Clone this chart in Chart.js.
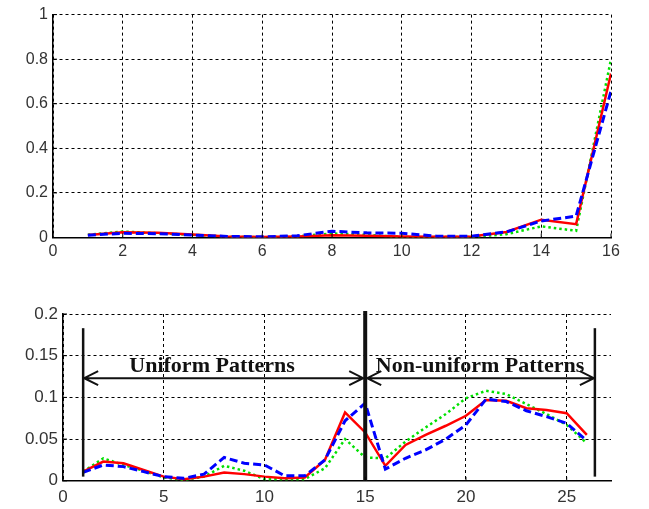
<!DOCTYPE html>
<html lang="en">
<head>
    <meta charset="UTF-8">
    <title>Uniform / Non-uniform Patterns</title>
    <script src="https://cdn.jsdelivr.net/npm/chart.js"></script>
    <style>
        body { margin: 0; background: #fff; width: 649px; height: 509px; position: relative; overflow: hidden; }
        .box { position: absolute; left: 0; width: 649px; }
        #topBox { top: 0; height: 262px; }
        #bottomBox { top: 290px; height: 219px; }
    </style>
</head>
<body>
    <div class="box" id="topBox"><canvas id="topChart"></canvas></div>
    <div class="box" id="bottomBox"><canvas id="bottomChart"></canvas></div>

    <script>
        // top plot: 15 uniform bins + 1 merged bin
        const topX = [1, 2, 3, 4, 5, 6, 7, 8, 9, 10, 11, 12, 13, 14, 15, 16];
        const topRed   = [0.011, 0.023, 0.021, 0.013, 0.005, 0.002, 0.005, 0.010, 0.008, 0.005, 0.003, 0.004, 0.025, 0.080, 0.060, 0.736];
        const topBlue  = [0.010, 0.019, 0.017, 0.011, 0.005, 0.003, 0.008, 0.028, 0.021, 0.019, 0.006, 0.006, 0.025, 0.074, 0.096, 0.657];
        const topGreen = [0.012, 0.027, 0.019, 0.012, 0.004, 0.001, 0.005, 0.018, 0.012, 0.002, 0.002, 0.002, 0.015, 0.050, 0.030, 0.800];
        const topXTicks = [0, 2, 4, 6, 8, 10, 12, 14, 16];
        const topYTicks = [0, 0.2, 0.4, 0.6, 0.8, 1];

        // bottom plot: 26 bins
        const bottomX = [1, 2, 3, 4, 5, 6, 7, 8, 9, 10, 11, 12, 13, 14, 15, 16, 17, 18, 19, 20, 21, 22, 23, 24, 25, 26];
        const bottomRed   = [0.011, 0.023, 0.021, 0.013, 0.005, 0.002, 0.005, 0.010, 0.008, 0.005, 0.003, 0.004, 0.025, 0.082, 0.058,
                             0.018, 0.043, 0.055, 0.066, 0.078, 0.097, 0.096, 0.087, 0.085, 0.081, 0.055];
        const bottomBlue  = [0.010, 0.019, 0.017, 0.011, 0.005, 0.003, 0.008, 0.028, 0.021, 0.019, 0.006, 0.006, 0.025, 0.072, 0.093,
                             0.014, 0.027, 0.037, 0.050, 0.067, 0.098, 0.095, 0.084, 0.077, 0.069, 0.048];
        const bottomGreen = [0.011, 0.027, 0.019, 0.012, 0.004, 0.001, 0.005, 0.018, 0.012, 0.002, 0.002, 0.002, 0.015, 0.050, 0.028,
                             0.027, 0.047, 0.064, 0.080, 0.099, 0.108, 0.104, 0.092, 0.080, 0.067, 0.045];
        const bottomXTicks = [0, 5, 10, 15, 20, 25];
        const bottomYTicks = [0, 0.05, 0.1, 0.15, 0.2];

        // annotation on the bottom plot
        const dividerX = [1, 15, 26.4];
        const arrowY = 0.123;
        const regionLabels = [
            { text: 'Uniform Patterns', x: 7.4 },
            { text: 'Non-uniform Patterns', x: 20.7 }
        ];

        function series(xs, ys) {
            return xs.map((x, i) => ({ x: x, y: ys[i] }));
        }

        function lineSets(xs, red, blue, green) {
            // blue first so it ends up on top
            return [
                { label: 'blue', data: series(xs, blue), borderColor: '#0000ff', borderWidth: 3, borderDash: [8, 4] },
                { label: 'red', data: series(xs, red), borderColor: '#ff0000', borderWidth: 2.5 },
                { label: 'green', data: series(xs, green), borderColor: '#00e000', borderWidth: 2.5, borderDash: [2.5, 3] }
            ];
        }

        function axes(xMin, xMax, xTicks, yMax, yTicks, xHeight, yWidth, fontSize, xPad) {
            const grid = { color: '#000', lineWidth: 1, drawTicks: false };
            const border = { display: true, color: '#000', width: 1.5, dash: [3, 3] };
            const ticks = {
                color: '#333',
                font: { family: '"Liberation Sans", Arial, sans-serif', size: fontSize },
                callback: v => String(+v.toFixed(2))
            };
            return {
                x: {
                    type: 'linear', min: xMin, max: xMax,
                    afterBuildTicks: s => { s.ticks = xTicks.map(v => ({ value: v })); },
                    afterFit: s => { s.height = xHeight; },
                    grid: grid, border: border,
                    ticks: Object.assign({ padding: xPad, maxRotation: 0, autoSkip: false }, ticks)
                },
                y: {
                    type: 'linear', min: 0, max: yMax,
                    afterBuildTicks: s => { s.ticks = yTicks.map(v => ({ value: v })); },
                    afterFit: s => { s.width = yWidth; },
                    grid: grid, border: border,
                    ticks: Object.assign({ padding: 5 }, ticks)
                }
            };
        }

        // matlab style ticks pointing into the plot
        const inwardTicks = {
            id: 'inwardTicks',
            afterDraw(chart) {
                const { ctx, chartArea: a, scales: { x, y } } = chart;
                ctx.save();
                ctx.strokeStyle = '#000';
                ctx.lineWidth = 1;
                ctx.beginPath();
                x.ticks.forEach(t => {
                    const px = x.getPixelForValue(t.value);
                    ctx.moveTo(px, a.bottom); ctx.lineTo(px, a.bottom - 4);
                });
                y.ticks.forEach(t => {
                    const py = y.getPixelForValue(t.value);
                    ctx.moveTo(a.left, py); ctx.lineTo(a.left + 4, py);
                });
                ctx.stroke();
                ctx.restore();
            }
        };

        function arrowHead(ctx, tipX, tipY, dir) {
            ctx.moveTo(tipX + dir * 14, tipY - 7);
            ctx.lineTo(tipX, tipY);
            ctx.lineTo(tipX + dir * 14, tipY + 7);
        }

        const regions = {
            id: 'regions',
            afterDatasetsDraw(chart) {
                const { ctx, scales: { x, y } } = chart;
                ctx.save();
                ctx.strokeStyle = '#111';
                ctx.fillStyle = '#111';

                // divider bars
                dividerX.forEach((dx, i) => {
                    const px = x.getPixelForValue(dx);
                    const mid = i === 1;
                    ctx.lineWidth = mid ? 4 : 2.5;
                    ctx.beginPath();
                    ctx.moveTo(px, y.getPixelForValue(mid ? 0 : 0.005));
                    ctx.lineTo(px, mid ? y.getPixelForValue(0.2) - 3 : y.getPixelForValue(0.183));
                    ctx.stroke();
                });

                // double arrows
                const ay = y.getPixelForValue(arrowY);
                ctx.lineWidth = 2;
                for (let i = 0; i < dividerX.length - 1; i++) {
                    const x1 = x.getPixelForValue(dividerX[i]) + (i === 1 ? 2 : 1);
                    const x2 = x.getPixelForValue(dividerX[i + 1]) - (i === 0 ? 2 : 1);
                    ctx.beginPath();
                    ctx.moveTo(x1, ay); ctx.lineTo(x2, ay);
                    arrowHead(ctx, x1, ay, 1);
                    arrowHead(ctx, x2, ay, -1);
                    ctx.stroke();
                }

                // region names
                ctx.font = 'bold 22px "Liberation Serif", "Times New Roman", serif';
                ctx.textAlign = 'center';
                ctx.textBaseline = 'alphabetic';
                regionLabels.forEach(l => {
                    ctx.fillText(l.text, x.getPixelForValue(l.x), ay - 6);
                });
                ctx.restore();
            }
        };

        const baseOptions = {
            responsive: true,
            maintainAspectRatio: false,
            animation: false,
            elements: { point: { radius: 0 }, line: { tension: 0, fill: false } },
            plugins: { legend: { display: false }, tooltip: { enabled: false } }
        };

        // top chart
        new Chart(document.getElementById('topChart'), {
            type: 'line',
            data: { datasets: lineSets(topX, topRed, topBlue, topGreen) },
            options: Object.assign({}, baseOptions, {
                layout: { padding: { top: 9, right: 38, left: 0, bottom: 0 } },
                scales: axes(0, 16, topXTicks, 1, topYTicks, 262 - 237.5, 53, 16, 4)
            }),
            plugins: [inwardTicks]
        });

        // bottom chart
        new Chart(document.getElementById('bottomChart'), {
            type: 'line',
            data: { datasets: lineSets(bottomX, bottomRed, bottomBlue, bottomGreen) },
            options: Object.assign({}, baseOptions, {
                layout: { padding: { top: 24, right: 38, left: 0, bottom: 0 } },
                scales: axes(0, 27.2, bottomXTicks, 0.2, bottomYTicks, 219 - 190.8, 63, 17, 6)
            }),
            plugins: [inwardTicks, regions]
        });
    </script>
</body>
</html>
